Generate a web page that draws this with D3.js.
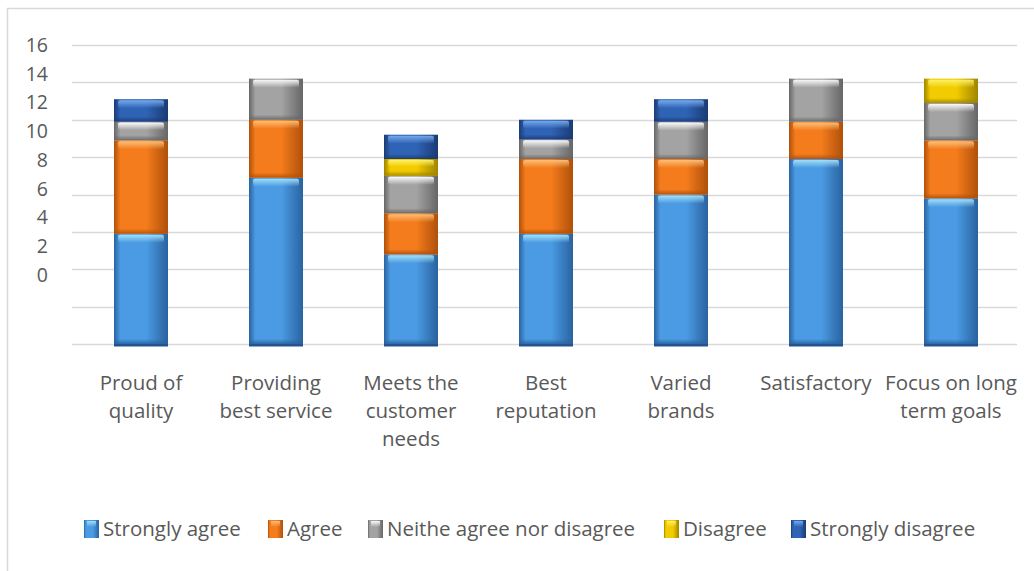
<!DOCTYPE html>
<html>
<head>
<meta charset="utf-8">
<script src="https://cdn.jsdelivr.net/npm/d3@7"></script>
<style>
  body { margin: 0; background: #fff; }
  text { font-family: "Open Sans", "Noto Sans", sans-serif; fill: #595959; }
</style>
</head>
<body>
<div id="chart-area"></div>
<script>
// categories and series
let categories = [
  ["Proud of", "quality"],
  ["Providing", "best service"],
  ["Meets the", "customer", "needs"],
  ["Best", "reputation"],
  ["Varied", "brands"],
  ["Satisfactory"],
  ["Focus on long", "term goals"]
];
let seriesNames = ["Strongly agree", "Agree", "Neithe agree nor disagree", "Disagree", "Strongly disagree"];

// values (in gridline units)
let stronglyAgree    = [5.9, 8.9, 4.8, 5.9, 8.0, 9.9, 7.8];
let agree            = [5.0, 3.1, 2.2, 4.0, 1.9, 2.0, 3.1];
let neither          = [1.0, 2.2, 2.0, 1.05, 2.0, 2.3, 2.0];
let disagree         = [0, 0, 0.9, 0, 0, 0, 1.3];
let stronglyDisagree = [1.2, 0, 1.3, 1.05, 1.2, 0, 0];

let yTicks = [0, 2, 4, 6, 8, 10, 12, 14, 16];

// colours: [edge, centre, highlight]
let colors = [
  ["#2a62a0", "#4a9be3", "#a6e2fa"],
  ["#b0500a", "#f47c1c", "#ffc27a"],
  ["#666666", "#a3a3a3", "#ffffff"],
  ["#a08400", "#f2cc00", "#fff36a"],
  ["#1a3b74", "#2f63b5", "#7aaef0"]
];

let width = 1034, height = 571;

let svg = d3.select("#chart-area").append("svg")
    .attr("width", width)
    .attr("height", height);

// chart border (only top and left visible)
svg.append("rect")
    .attr("x", 7.5).attr("y", 8.5)
    .attr("width", 1100).attr("height", 700)
    .attr("fill", "none")
    .attr("stroke", "#d9d9d9")
    .attr("stroke-width", 1.5);

// gradients
let defs = svg.append("defs");
colors.forEach((c, i) => {
    let g = defs.append("linearGradient").attr("id", "side" + i)
        .attr("x1", 0).attr("x2", 1).attr("y1", 0).attr("y2", 0);
    g.append("stop").attr("offset", "0%").attr("stop-color", c[0]);
    g.append("stop").attr("offset", "12%").attr("stop-color", c[1]);
    g.append("stop").attr("offset", "60%").attr("stop-color", c[1]);
    g.append("stop").attr("offset", "100%").attr("stop-color", c[0]);

    let h = defs.append("linearGradient").attr("id", "top" + i)
        .attr("x1", 0).attr("x2", 0).attr("y1", 0).attr("y2", 1);
    h.append("stop").attr("offset", "0%").attr("stop-color", c[2]).attr("stop-opacity", 0.95);
    h.append("stop").attr("offset", "100%").attr("stop-color", c[2]).attr("stop-opacity", 0);

    let b = defs.append("linearGradient").attr("id", "bot" + i)
        .attr("x1", 0).attr("x2", 0).attr("y1", 0).attr("y2", 1);
    b.append("stop").attr("offset", "0%").attr("stop-color", c[0]).attr("stop-opacity", 0);
    b.append("stop").attr("offset", "100%").attr("stop-color", c[0]).attr("stop-opacity", 0.9);
});

// scales
let x = d3.scaleBand()
    .domain(d3.range(categories.length))
    .range([73.5, 1018.5])
    .paddingInner(0.6)
    .paddingOuter(0.3);

let y = d3.scaleLinear()
    .domain([0, 16])
    .range([344, 45]);

// tick labels sit on their own (compressed) scale in the picture
let yLabel = d3.scaleLinear()
    .domain([0, 16])
    .range([275, 45]);

// gridlines
svg.append("g").selectAll("line")
    .data(yTicks)
    .enter().append("line")
    .attr("x1", 72).attr("x2", 1017)
    .attr("y1", d => Math.round(y(d)) + 0.5)
    .attr("y2", d => Math.round(y(d)) + 0.5)
    .attr("stroke", "#d9d9d9")
    .attr("stroke-width", 1.5);

// y tick labels
svg.append("g").selectAll("text")
    .data(yTicks)
    .enter().append("text")
    .attr("x", 48)
    .attr("y", d => yLabel(d))
    .attr("dy", "0.35em")
    .attr("text-anchor", "end")
    .style("font-size", "19.5px")
    .text(d => d);

// stack
let rows = categories.map((c, i) => ({
    i: i,
    s0: stronglyAgree[i], s1: agree[i], s2: neither[i], s3: disagree[i], s4: stronglyDisagree[i]
}));
let stacked = d3.stack().keys(["s0", "s1", "s2", "s3", "s4"])(rows);

let bars = svg.append("g");
stacked.forEach((layer, k) => {
    let segs = layer.filter(d => d[1] - d[0] > 0);
    let g = bars.append("g");
    g.selectAll(".seg").data(segs).enter().append("rect")
        .attr("class", "seg")
        .attr("x", d => x(d.data.i))
        .attr("y", d => y(d[1]))
        .attr("width", x.bandwidth())
        .attr("height", d => y(d[0]) - y(d[1]))
        .attr("fill", "url(#side" + k + ")");
    // top highlight
    g.selectAll(".hi").data(segs).enter().append("rect")
        .attr("x", d => x(d.data.i) + 4)
        .attr("y", d => y(d[1]) + 1)
        .attr("width", x.bandwidth() - 8)
        .attr("height", d => Math.min(8, (y(d[0]) - y(d[1])) * 0.4))
        .attr("rx", 2)
        .attr("fill", "url(#top" + k + ")");
    // bottom shade
    g.selectAll(".lo").data(segs).enter().append("rect")
        .attr("x", d => x(d.data.i))
        .attr("y", d => y(d[0]) - Math.min(5, (y(d[0]) - y(d[1])) * 0.3))
        .attr("width", x.bandwidth())
        .attr("height", d => Math.min(5, (y(d[0]) - y(d[1])) * 0.3))
        .attr("fill", "url(#bot" + k + ")");
});

// dark foot under each bar
bars.selectAll(".foot").data(rows).enter().append("rect")
    .attr("x", d => x(d.i))
    .attr("y", y(0))
    .attr("width", x.bandwidth())
    .attr("height", 2.5)
    .attr("fill", "#24548f");

// category labels
let catG = svg.append("g").selectAll("text")
    .data(categories)
    .enter().append("text")
    .attr("text-anchor", "middle")
    .attr("x", (d, i) => x(i) + x.bandwidth() / 2)
    .attr("y", 383)
    .style("font-size", "20.5px");
catG.selectAll("tspan").data(d => d).enter().append("tspan")
    .attr("x", function () { return d3.select(this.parentNode).attr("x"); })
    .attr("dy", (d, j) => j === 0 ? "0.35em" : "28px")
    .text(d => d);

// legend
let legendX = [84, 268, 368, 664, 791];
let legend = svg.append("g").selectAll("g")
    .data(seriesNames)
    .enter().append("g")
    .attr("transform", (d, i) => "translate(" + legendX[i] + ",520)");
legend.append("rect")
    .attr("width", 15).attr("height", 18)
    .attr("fill", (d, i) => "url(#side" + i + ")");
legend.append("rect")
    .attr("x", 3).attr("y", 1).attr("width", 9).attr("height", 6)
    .attr("fill", (d, i) => "url(#top" + i + ")");
legend.append("text")
    .attr("x", 19).attr("y", 9).attr("dy", "0.35em")
    .style("font-size", "20.5px")
    .text(d => d);
</script>
</body>
</html>
